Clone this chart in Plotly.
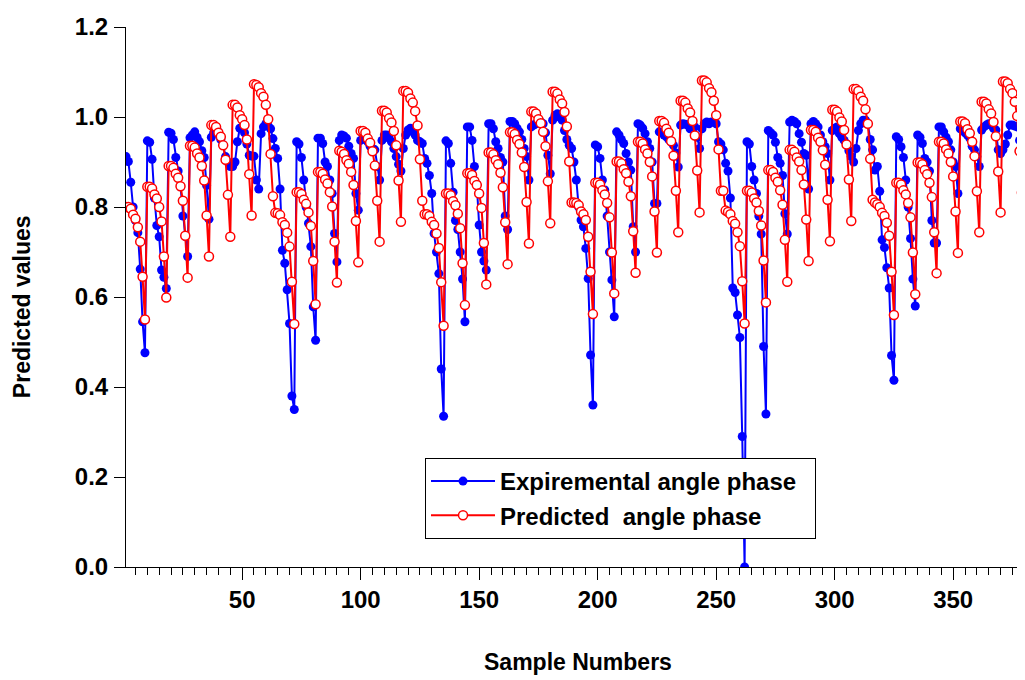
import plotly.graph_objects as go

exp_c1 = [0.912, 0.901, 0.855, 0.800, 0.770, 0.743, 0.662, 0.545, 0.476,
          0.947, 0.944, 0.906, 0.820, 0.759, 0.734, 0.660, 0.644, 0.619,
          0.966, 0.964, 0.950, 0.910, 0.880, 0.845, 0.780, 0.735, 0.690,
          0.954, 0.960, 0.967, 0.955, 0.945, 0.925, 0.910, 0.848, 0.773,
          0.955, 0.965, 0.970, 0.967, 0.950, 0.938, 0.912, 0.900, 0.890,
          0.890, 0.900, 0.945, 0.975, 0.978, 0.965, 0.940, 0.915, 0.913,
          0.913, 0.860, 0.840, 0.963, 0.978, 0.985, 0.980, 0.974, 0.952,
          0.930, 0.908, 0.840, 0.704, 0.675, 0.616, 0.541, 0.380, 0.350]
exp_c2 = [0.945, 0.940, 0.910, 0.860, 0.800, 0.764, 0.712, 0.578, 0.504,
          0.953, 0.953, 0.941, 0.900, 0.890, 0.860, 0.830, 0.741, 0.678,
          0.948, 0.960, 0.958, 0.953, 0.935, 0.919, 0.908, 0.830, 0.793,
          0.948, 0.953, 0.953, 0.945, 0.935, 0.930, 0.927, 0.890, 0.860,
          0.948, 0.960, 0.960, 0.953, 0.945, 0.930, 0.912, 0.895, 0.880,
          0.930, 0.960, 0.971, 0.975, 0.967, 0.960, 0.948, 0.945, 0.941,
          0.908, 0.897, 0.870, 0.830, 0.741, 0.700, 0.652, 0.440, 0.335]
exp_c3 = [0.947, 0.941, 0.897, 0.833, 0.770, 0.750, 0.700, 0.640, 0.545,
          0.978, 0.978, 0.948, 0.890, 0.850, 0.760, 0.700, 0.680, 0.660,
          0.985, 0.985, 0.974, 0.945, 0.930, 0.910, 0.900, 0.780, 0.750,
          0.990, 0.990, 0.985, 0.975, 0.967, 0.950, 0.930, 0.912, 0.860,
          0.978, 0.982, 0.985, 0.987, 0.989, 0.985, 0.965, 0.915, 0.874,
          0.993, 1.004, 1.007, 1.000, 0.993, 0.970, 0.950, 0.937, 0.930,
          0.900, 0.860, 0.800, 0.771, 0.756, 0.708, 0.641, 0.471, 0.360]
exp_c4 = [0.938, 0.934, 0.908, 0.860, 0.838, 0.780, 0.700, 0.638, 0.556,
          0.967, 0.960, 0.950, 0.941, 0.919, 0.900, 0.882, 0.756, 0.700,
          0.985, 0.982, 0.975, 0.963, 0.945, 0.930, 0.900, 0.808, 0.808,
          0.967, 0.965, 0.960, 0.956, 0.950, 0.945, 0.937, 0.920, 0.889,
          0.982, 0.985, 0.984, 0.982, 0.974, 0.976, 0.978, 0.955, 0.930,
          0.974, 0.985, 0.989, 0.985, 0.989, 0.989, 0.985, 0.945, 0.940, 0.927,
          0.897, 0.880, 0.820, 0.620, 0.610, 0.560, 0.510, 0.290, 0.000]
exp_c5 = [0.945, 0.940, 0.890, 0.860, 0.830, 0.780, 0.740, 0.490, 0.340,
          0.970, 0.965, 0.960, 0.944, 0.910, 0.897, 0.870, 0.785, 0.740,
          0.989, 0.993, 0.990, 0.985, 0.963, 0.944, 0.919, 0.915, 0.840,
          0.985, 0.990, 0.985, 0.978, 0.960, 0.945, 0.934, 0.919, 0.860,
          0.970, 0.975, 0.978, 0.963, 0.955, 0.948, 0.940, 0.925, 0.912,
          0.900, 0.930, 0.970, 0.985, 0.993, 0.993, 0.985, 0.950, 0.927,
          0.882, 0.890, 0.835, 0.727, 0.710, 0.665, 0.620, 0.470, 0.415]
exp_c6 = [0.956, 0.950, 0.934, 0.910, 0.860, 0.800, 0.730, 0.640, 0.580,
          0.960, 0.955, 0.941, 0.908, 0.900, 0.880, 0.770, 0.720, 0.720,
          0.978, 0.978, 0.967, 0.955, 0.945, 0.927, 0.900, 0.890, 0.830,
          0.974, 0.971, 0.965, 0.960, 0.953, 0.935, 0.927, 0.912, 0.890,
          0.971, 0.978, 0.982, 0.985, 0.982, 0.975, 0.971, 0.927, 0.919,
          0.927, 0.940, 0.960, 0.982, 0.982, 0.980, 0.978, 0.948, 0.941,
          0.930, 0.920, 0.910]

# ---- Predicted angle phase (red)
pred_c1 = [0.800, 0.800, 0.796, 0.783, 0.774, 0.755, 0.723, 0.645, 0.550,
           0.845, 0.845, 0.841, 0.828, 0.819, 0.800, 0.768, 0.690, 0.599,
           0.891, 0.891, 0.887, 0.874, 0.865, 0.846, 0.814, 0.736, 0.643,
           0.936, 0.936, 0.932, 0.919, 0.910, 0.891, 0.859, 0.781, 0.690,
           0.982, 0.982, 0.978, 0.965, 0.956, 0.937, 0.905, 0.827, 0.734,
           1.027, 1.027, 1.021, 1.004, 0.995, 0.982, 0.950, 0.873, 0.781,
           1.073, 1.071, 1.066, 1.053, 1.045, 1.027, 0.995, 0.918, 0.824,
           0.787, 0.786, 0.782, 0.766, 0.760, 0.743, 0.712, 0.634, 0.540]
pred_c2 = [0.833, 0.833, 0.829, 0.816, 0.807, 0.788, 0.758, 0.680, 0.584,
           0.878, 0.878, 0.874, 0.861, 0.852, 0.833, 0.801, 0.723, 0.632,
           0.925, 0.923, 0.918, 0.904, 0.896, 0.878, 0.849, 0.769, 0.677,
           0.969, 0.969, 0.965, 0.952, 0.943, 0.924, 0.892, 0.814, 0.723,
           1.014, 1.014, 1.010, 0.997, 0.988, 0.969, 0.937, 0.859, 0.767,
           1.058, 1.058, 1.054, 1.041, 1.032, 1.013, 0.981, 0.906, 0.814,
           0.784, 0.784, 0.780, 0.767, 0.760, 0.741, 0.709, 0.633, 0.536]
pred_c3 = [0.830, 0.830, 0.826, 0.813, 0.804, 0.785, 0.753, 0.675, 0.582,
           0.875, 0.875, 0.871, 0.858, 0.849, 0.830, 0.798, 0.720, 0.628,
           0.921, 0.921, 0.917, 0.904, 0.895, 0.876, 0.844, 0.766, 0.673,
           0.966, 0.966, 0.962, 0.949, 0.940, 0.921, 0.889, 0.811, 0.719,
           1.012, 1.012, 1.008, 0.995, 0.986, 0.967, 0.935, 0.857, 0.764,
           1.056, 1.056, 1.052, 1.039, 1.030, 1.011, 0.979, 0.901, 0.810,
           0.810, 0.809, 0.804, 0.790, 0.784, 0.771, 0.734, 0.656, 0.562]
pred_c4 = [0.854, 0.854, 0.850, 0.837, 0.828, 0.809, 0.777, 0.699, 0.608,
           0.901, 0.901, 0.897, 0.884, 0.875, 0.856, 0.824, 0.746, 0.654,
           0.945, 0.945, 0.941, 0.928, 0.919, 0.900, 0.868, 0.790, 0.699,
           0.991, 0.991, 0.987, 0.974, 0.965, 0.946, 0.914, 0.836, 0.744,
           1.036, 1.036, 1.032, 1.019, 1.010, 0.991, 0.959, 0.881, 0.788,
           1.081, 1.081, 1.077, 1.064, 1.055, 1.036, 1.004, 0.928, 0.836, 0.836,
           0.792, 0.789, 0.784, 0.769, 0.763, 0.744, 0.713, 0.635, 0.541]
pred_c5 = [0.836, 0.836, 0.832, 0.819, 0.810, 0.791, 0.759, 0.681, 0.588,
           0.882, 0.882, 0.878, 0.865, 0.856, 0.837, 0.805, 0.727, 0.634,
           0.927, 0.927, 0.923, 0.910, 0.901, 0.882, 0.850, 0.772, 0.680,
           0.971, 0.971, 0.967, 0.954, 0.945, 0.926, 0.894, 0.816, 0.724,
           1.016, 1.016, 1.012, 0.999, 0.990, 0.971, 0.939, 0.861, 0.769,
           1.062, 1.062, 1.058, 1.045, 1.036, 1.017, 0.985, 0.907, 0.816,
           0.810, 0.806, 0.800, 0.787, 0.780, 0.765, 0.736, 0.656, 0.560]
pred_c6 = [0.854, 0.854, 0.850, 0.837, 0.828, 0.809, 0.777, 0.699, 0.606,
           0.899, 0.899, 0.895, 0.882, 0.873, 0.854, 0.822, 0.744, 0.653,
           0.945, 0.945, 0.941, 0.928, 0.919, 0.900, 0.868, 0.790, 0.698,
           0.990, 0.990, 0.986, 0.973, 0.964, 0.945, 0.913, 0.835, 0.744,
           1.034, 1.034, 1.030, 1.017, 1.008, 0.989, 0.957, 0.879, 0.788,
           1.079, 1.079, 1.075, 1.062, 1.053, 1.034, 1.002, 0.924, 0.832,
           0.790, 0.789, 0.785]

y_ticks = [0.0, 0.2, 0.4, 0.6, 0.8, 1.0, 1.2]
x_ticks = [50, 100, 150, 200, 250, 300, 350]

experimental = exp_c1 + exp_c2 + exp_c3 + exp_c4 + exp_c5 + exp_c6
predicted = pred_c1 + pred_c2 + pred_c3 + pred_c4 + pred_c5 + pred_c6
samples = list(range(1, len(experimental) + 1))

FONT = "Liberation Sans, Arial, Helvetica, sans-serif"
NB = "\u00a0"

fig = go.Figure()
fig.add_trace(go.Scatter(
    x=samples, y=experimental, mode="lines+markers",
    name="Expiremental angle phase" + NB + NB,
    line=dict(color="#0000FF", width=2),
    marker=dict(color="#0000FF", size=9, symbol="circle", line=dict(width=0)),
))
fig.add_trace(go.Scatter(
    x=samples, y=predicted, mode="lines+markers",
    name="Predicted" + NB + " angle phase",
    line=dict(color="#FF0000", width=2),
    marker=dict(color="white", size=9, symbol="circle",
                line=dict(color="#FF0000", width=1.5)),
))

tickfont = dict(family=FONT, size=24, color="black", weight="bold")
titlefont = dict(family=FONT, size=23, color="black", weight="bold")

# The page body adds an 8px offset, so the figure is sized/margined accordingly.
fig.update_layout(
    width=1017, height=672,
    margin=dict(l=118, r=0, t=19, b=113),
    paper_bgcolor="white", plot_bgcolor="white",
    showlegend=True,
    legend=dict(
        x=0.3326, y=0.2019, xanchor="left", yanchor="top",
        bgcolor="white", bordercolor="black", borderwidth=1,
        font=dict(family=FONT, size=24, color="black", weight="bold"),
        itemwidth=64, tracegroupgap=0,
    ),
    xaxis=dict(
        range=[1, 380.3], tickmode="array", tickvals=x_ticks,
        showgrid=False, zeroline=False,
        showline=True, linecolor="black", linewidth=1,
        ticks="outside", ticklen=12, tickcolor="black", tickwidth=1,
        minor=dict(dtick=5, tick0=0, ticks="outside", ticklen=7,
                   tickcolor="black", showgrid=False),
        tickfont=tickfont, ticklabelstandoff=-1,
    ),
    yaxis=dict(
        range=[0, 1.2], tickmode="array", tickvals=y_ticks,
        tickformat=".1f",
        showgrid=False, zeroline=False,
        showline=True, linecolor="black", linewidth=1,
        ticks="outside", ticklen=11, tickcolor="black", tickwidth=1,
        tickfont=tickfont, ticklabelstandoff=1,
    ),
    annotations=[
        dict(text="Sample Numbers", xref="paper", yref="paper",
             x=0.503, y=-0.176, xanchor="center", yanchor="middle",
             showarrow=False, font=titlefont),
        dict(text="Predicted values", xref="paper", yref="paper",
             x=-0.1157, y=0.483, xanchor="center", yanchor="middle",
             textangle=-90, showarrow=False, font=titlefont),
    ],
)

fig.write_html("out.html")
